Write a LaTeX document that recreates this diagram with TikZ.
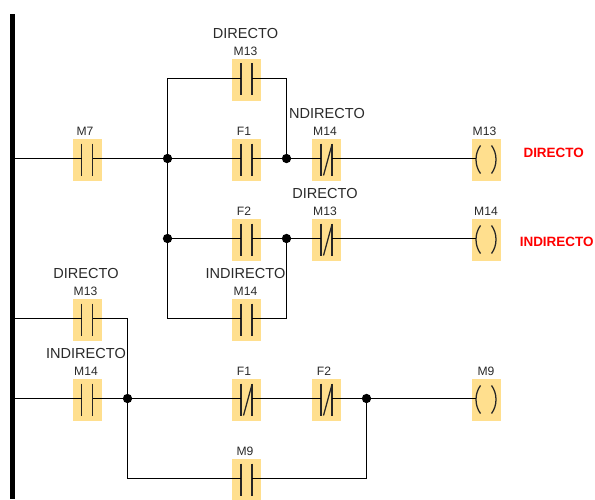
\documentclass[tikz,border=0pt]{standalone}
\usepackage{fontspec}
\setmainfont{Liberation Sans}
\definecolor{boxc}{HTML}{FFDF8E}
\definecolor{txt}{HTML}{2A2A2A}
\tikzset{
  x=0.75pt,y=-0.75pt,
  cellbox/.style={fill=boxc,draw=none,minimum width=21.75pt,minimum height=31.5pt,inner sep=0pt,outer sep=0pt},
  wire/.style={line width=0.95pt,black},
  plate/.style={line width=0.95pt,black!85},
  jdot/.style={circle,fill=black,draw=none,minimum size=7pt,inner sep=0pt,outer sep=0pt},
  tag/.style={font=\fontsize{9.1}{10}\selectfont,text=txt,inner sep=0pt},
  note/.style={font=\fontsize{10.9}{12}\selectfont,text=txt,inner sep=0pt},
  alert/.style={font=\fontsize{10.1}{12}\selectfont\bfseries,text=red,inner sep=0pt},
}
% name, x, wire y, label x, label
\newcommand{\mkbase}[5]{%
  \node[cellbox] (#1) at (#2,#3+1.5) {};
  \node[tag] (#1t) at (#4,#3-27) {#5};
}
\newcommand{\mkno}[5]{%
  \mkbase{#1}{#2}{#3}{#4}{#5}
  \coordinate (#1-l) at (#2-5.5,#3);
  \coordinate (#1-r) at (#2+5.5,#3);
  \draw[plate] (#2-5.5,#3-15) -- (#2-5.5,#3+17);
  \draw[plate] (#2+5.5,#3-15) -- (#2+5.5,#3+17);
}
\newcommand{\mknc}[5]{%
  \mkno{#1}{#2}{#3}{#4}{#5}
  \draw[plate] (#2-3,#3+17) -- (#2+5.2,#3-13);
}
\newcommand{\mkcoil}[5]{%
  \mkbase{#1}{#2}{#3}{#4}{#5}
  \coordinate (#1-l) at (#2-10,#3);
  \draw[plate] (#2-5.5,#3-13) .. controls (#2-11.5,#3-5) and (#2-11.5,#3+7) .. (#2-5.5,#3+15);
  \draw[plate] (#2+5.5,#3-13) .. controls (#2+11.5,#3-5) and (#2+11.5,#3+7) .. (#2+5.5,#3+15);
}
\begin{document}
\begin{tikzpicture}
\useasboundingbox (0,0) rectangle (595,499);
\clip (0,0) rectangle (595,499);
\fill[white] (0,0) rectangle (595,499);
\node[fill=black,draw=none,minimum width=3.75pt,minimum height=363.75pt,inner sep=0pt,outer sep=0pt,anchor=north] (rail) at (12.5,14) {};

\mkno{mseven}{87}{158.5}{85}{M7}
\mkno{mthirteenA}{246.5}{78.5}{245.5}{M13}
\mkno{fone}{246.5}{158.5}{244}{F1}
\mkno{ftwo}{246.5}{238.5}{244}{F2}
\mkno{mfourteenA}{246.5}{318.5}{245.5}{M14}
\mknc{mfourteenN}{326.5}{158.5}{325}{M14}
\mknc{mthirteenN}{326.5}{238.5}{325}{M13}
\mkcoil{coilA}{486}{158.5}{484.5}{M13}
\mkcoil{coilB}{486}{238.5}{486}{M14}
\mkno{mthirteenB}{87}{318.5}{85.5}{M13}
\mkno{mfourteenB}{87}{398.5}{86}{M14}
\mknc{foneN}{246.5}{398.5}{244}{F1}
\mknc{ftwoN}{326.5}{398.5}{324}{F2}
\mkcoil{coilC}{486}{398.5}{486}{M9}
\mkno{mnine}{246.5}{478.5}{245}{M9}

\node[jdot] (j1) at (167.5,158.5) {};
\node[jdot] (j2) at (286.5,158.5) {};
\node[jdot] (j3) at (167.5,238.5) {};
\node[jdot] (j4) at (286.5,238.5) {};
\node[jdot] (j5) at (127.5,398.5) {};
\node[jdot] (j6) at (366.5,398.5) {};

\draw[wire] (rail.east |- mseven-l) -- (mseven-l);
\draw[wire] (mseven-r) -- (j1);
\draw[wire] (j1) -- (fone-l);
\draw[wire] (fone-r) -- (j2);
\draw[wire] (j2) -- (mfourteenN-l);
\draw[wire] (mfourteenN-r) -- (coilA-l);
\draw[wire] (j1) |- (mthirteenA-l);
\draw[wire] (mthirteenA-r) -| (j2);
\draw[wire] (j1) -- (j3);
\draw[wire] (j3) -- (ftwo-l);
\draw[wire] (ftwo-r) -- (j4);
\draw[wire] (j4) -- (mthirteenN-l);
\draw[wire] (mthirteenN-r) -- (coilB-l);
\draw[wire] (j3) |- (mfourteenA-l);
\draw[wire] (mfourteenA-r) -| (j4);
\draw[wire] (rail.east |- mthirteenB-l) -- (mthirteenB-l);
\draw[wire] (mthirteenB-r) -| (j5);
\draw[wire] (rail.east |- mfourteenB-l) -- (mfourteenB-l);
\draw[wire] (mfourteenB-r) -- (j5);
\draw[wire] (j5) -- (foneN-l);
\draw[wire] (foneN-r) -- (ftwoN-l);
\draw[wire] (ftwoN-r) -- (j6);
\draw[wire] (j6) -- (coilC-l);
\draw[wire] (j5) |- (mnine-l);
\draw[wire] (mnine-r) -| (j6);

\node[note] (n1) at (245.5,33.7) {DIRECTO};
\node[note] (n2) at (327,113.7) {NDIRECTO};
\node[note] (n3) at (325,193.7) {DIRECTO};
\node[note] (n4) at (245.5,273.7) {INDIRECTO};
\node[note] (n5) at (86,273.7) {DIRECTO};
\node[note] (n6) at (86,353.7) {INDIRECTO};
\node[alert] (a1) at (553.7,153) {DIRECTO};
\node[alert] (a2) at (556.7,241.7) {INDIRECTO};
\end{tikzpicture}
\end{document}
